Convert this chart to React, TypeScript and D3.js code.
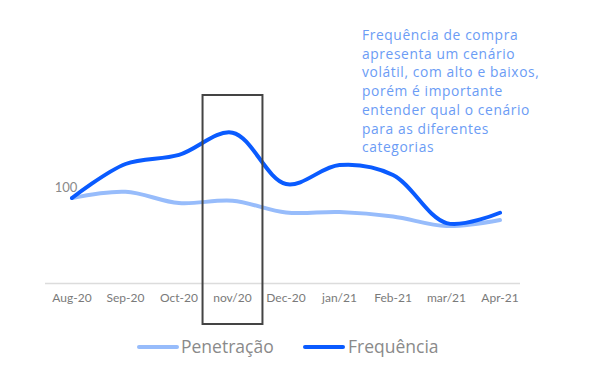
import React from "react";
import * as d3 from "d3";

const categories = ["Aug-20", "Sep-20", "Oct-20", "nov/20", "Dec-20", "jan/21", "Feb-21", "mar/21", "Apr-21"];
const penetracao = [100, 104.2, 96.6, 98.2, 90.3, 90.6, 87.6, 81.2, 85.2];
const frequencia = [100, 122.8, 128.9, 143.8, 109.4, 122.1, 115.4, 83.2, 90.1];
const annotation = [
  "Frequência de compra",
  "apresenta um cenário",
  "volátil, com alto e baixos,",
  "porém é importante",
  "entender qual o cenário",
  "para as diferentes",
  "categorias",
];
const highlight = "nov/20";
const refLabel = "100";

const FONT = "Lato, 'Open Sans', sans-serif";
const FONT2 = "'Open Sans', sans-serif";
const PEN = "#97bcfb";
const FREQ = "#0a5bff";

export default function App() {
  const x = d3.scalePoint<string>().domain(categories).range([72, 500]);
  const y = d3.scaleLinear().domain([43, 100]).range([283, 198]);
  const step = x.step();
  const line = d3
    .line<number>()
    .x((_, i) => x(categories[i]) as number)
    .y((d) => y(d))
    .curve(d3.curveCatmullRom.alpha(0.5));
  const hx = x(highlight) as number;

  return (
    <svg width={600} height={384} style={{ position: "absolute", left: 0, top: 0 }} fontFamily={FONT}>
      <rect width={600} height={384} fill="#fff" />
      <line x1={45} x2={520} y1={283.5} y2={283.5} stroke="#dcdcdc" strokeWidth={1.5} />
      {categories.map((c) => (
        <text key={c} x={x(c)} y={302} textAnchor="middle" fontSize={12} fill="#7a7a7a">
          {c}
        </text>
      ))}
      <text x={66} y={192} textAnchor="middle" fontSize={13} fill="#8a8a8a">
        {refLabel}
      </text>
      <path d={line(penetracao) || ""} fill="none" stroke={PEN} strokeWidth={4} strokeLinecap="round" />
      <path d={line(frequencia) || ""} fill="none" stroke={FREQ} strokeWidth={4} strokeLinecap="round" />
      <rect
        x={hx - step * 0.56}
        y={95}
        width={step * 1.12}
        height={229}
        fill="none"
        stroke="#444"
        strokeWidth={2}
      />
      {annotation.map((t, i) => (
        <text key={i} x={362} y={40 + i * 18.7} fontSize={13.8} letterSpacing={0.6} fill="#6b9cf5" fontFamily={FONT2}>
          {t}
        </text>
      ))}
      <line x1={139} x2={177} y1={347} y2={347} stroke={PEN} strokeWidth={4} strokeLinecap="round" />
      <text x={181} y={353} fontSize={17.5} fill="#8a8a8a" fontFamily={FONT2}>Penetração</text>
      <line x1={305} x2={343} y1={347} y2={347} stroke={FREQ} strokeWidth={4} strokeLinecap="round" />
      <text x={348} y={353} fontSize={17.5} fill="#8a8a8a" fontFamily={FONT2}>Frequência</text>
    </svg>
  );
}
